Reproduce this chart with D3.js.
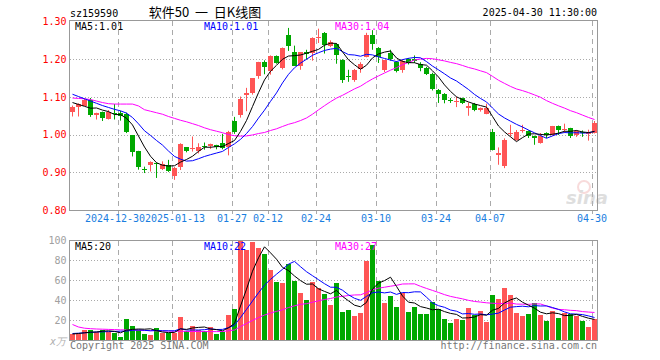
<!DOCTYPE html>
<html>
<head>
<meta charset="utf-8">
<script src="https://cdn.jsdelivr.net/npm/d3@7"></script>
<style>
  body { margin: 0; background: #fff; }
  svg text { font-family: "DejaVu Sans Mono", monospace; font-size: 10px; }
</style>
</head>
<body>
<div class="chart"></div>
<script>
// trading days shown on the chart
var dates = [
  "2024-12-18","2024-12-19","2024-12-20","2024-12-23","2024-12-24","2024-12-25","2024-12-26","2024-12-27","2024-12-30","2024-12-31",
  "2025-01-02","2025-01-03","2025-01-06","2025-01-07","2025-01-08","2025-01-09","2025-01-10","2025-01-13","2025-01-14","2025-01-15",
  "2025-01-16","2025-01-17","2025-01-20","2025-01-21","2025-01-22","2025-01-23","2025-01-24","2025-01-27","2025-02-05","2025-02-06",
  "2025-02-07","2025-02-10","2025-02-11","2025-02-12","2025-02-13","2025-02-14","2025-02-17","2025-02-18","2025-02-19","2025-02-20",
  "2025-02-21","2025-02-24","2025-02-25","2025-02-26","2025-02-27","2025-02-28","2025-03-03","2025-03-04","2025-03-05","2025-03-06",
  "2025-03-07","2025-03-10","2025-03-11","2025-03-12","2025-03-13","2025-03-14","2025-03-17","2025-03-18","2025-03-19","2025-03-20",
  "2025-03-21","2025-03-24","2025-03-25","2025-03-26","2025-03-27","2025-03-28","2025-03-31","2025-04-01","2025-04-02","2025-04-03",
  "2025-04-07","2025-04-08","2025-04-09","2025-04-10","2025-04-11","2025-04-14","2025-04-15","2025-04-16","2025-04-17","2025-04-18",
  "2025-04-21","2025-04-22","2025-04-23","2025-04-24","2025-04-25","2025-04-28","2025-04-29","2025-04-30"
];

var opens = [
  1.060,1.074,1.077,1.092,1.053,1.059,1.042,1.056,1.056,1.055,
  0.999,0.957,0.909,0.920,0.925,0.909,0.920,0.890,0.915,0.966,
  0.963,0.957,0.969,0.969,0.972,0.977,0.968,1.037,1.052,1.104,
  1.110,1.156,1.192,1.168,1.209,1.177,1.263,1.218,1.181,1.218,
  1.217,1.258,1.270,1.236,1.240,1.197,1.156,1.145,1.175,1.206,
  1.263,1.230,1.171,1.217,1.192,1.172,1.200,1.200,1.188,1.177,
  1.162,1.119,1.108,1.092,1.087,1.097,1.070,1.082,1.064,1.055,
  1.008,0.947,0.918,1.003,0.986,1.011,1.010,0.995,0.977,1.003,
  0.999,1.023,1.013,1.017,0.999,1.007,1.001,1.005
];
var highs = [
  1.077,1.083,1.096,1.097,1.058,1.061,1.065,1.081,1.063,1.058,
  0.999,0.957,0.915,0.929,0.926,0.929,0.933,0.914,0.977,0.967,
  0.995,0.977,0.979,0.976,0.973,1.002,1.010,1.047,1.101,1.124,
  1.150,1.193,1.197,1.210,1.210,1.231,1.283,1.236,1.219,1.225,
  1.258,1.281,1.272,1.250,1.242,1.200,1.172,1.174,1.192,1.270,
  1.277,1.232,1.198,1.225,1.195,1.200,1.203,1.210,1.192,1.180,
  1.164,1.121,1.110,1.097,1.101,1.098,1.085,1.084,1.072,1.082,
  1.015,0.966,0.990,1.026,1.012,1.026,1.011,0.997,1.004,1.006,
  1.023,1.024,1.029,1.018,1.012,1.011,1.013,1.036
];
var lows = [
  1.048,1.048,1.076,1.047,1.040,1.036,1.040,1.040,1.037,1.004,
  0.942,0.907,0.898,0.902,0.885,0.906,0.901,0.880,0.906,0.953,
  0.955,0.950,0.960,0.962,0.961,0.961,0.945,1.002,1.045,1.062,
  1.106,1.148,1.160,1.159,1.188,1.173,1.222,1.183,1.172,1.199,
  1.196,1.243,1.215,1.232,1.188,1.137,1.140,1.140,1.164,1.205,
  1.225,1.190,1.166,1.196,1.165,1.164,1.186,1.190,1.168,1.158,
  1.117,1.084,1.083,1.084,1.073,1.081,1.050,1.062,1.061,1.054,
  0.958,0.920,0.911,0.995,0.984,1.005,0.991,0.973,0.976,0.991,
  0.997,0.999,1.004,0.991,0.994,0.994,0.984,1.003
];
var closes = [
  1.072,1.081,1.093,1.051,1.056,1.044,1.061,1.054,1.050,1.008,
  0.955,0.914,0.908,0.928,0.922,0.922,0.903,0.912,0.976,0.957,
  0.965,0.967,0.968,0.975,0.966,0.965,1.008,1.008,1.095,1.111,
  1.150,1.192,1.178,1.209,1.190,1.230,1.235,1.183,1.218,1.213,
  1.256,1.260,1.238,1.245,1.210,1.144,1.155,1.172,1.186,1.263,
  1.241,1.207,1.197,1.201,1.170,1.196,1.190,1.196,1.177,1.162,
  1.121,1.108,1.091,1.091,1.090,1.084,1.077,1.064,1.070,1.070,
  0.960,0.950,0.986,1.005,1.006,1.013,0.997,0.990,0.997,0.998,
  1.023,1.011,1.015,0.996,1.010,1.003,1.003,1.030
];
// volume, unit 10k
var volumes = [
  6,6,10,10,8,10,8,7,3,21,
  14,10,6,5,12,7,7,7,23,9,
  14,10,9,13,6,8,25,31,100,90,
  98,92,86,70,58,57,76,59,47,40,
  58,52,46,35,57,28,30,24,27,79,
  95,59,37,44,33,47,28,33,26,26,
  38,31,21,17,21,20,32,25,29,18,
  45,41,52,45,27,24,26,37,25,19,
  29,22,27,26,24,19,13,21
];

// averages before a full window is on screen
var ma5Head = [1.085, 1.080, 1.075, 1.070];
var ma10Head = [1.107, 1.101, 1.095, 1.089, 1.083, 1.077, 1.072, 1.067, 1.063];
var ma30Head = [1.097,1.096,1.095,1.093,1.089,1.085,1.082,1.081,1.081,1.081,1.081,1.076,1.066,1.062,1.058,
  1.054,1.048,1.043,1.038,1.034,1.029,1.024,1.018,1.013,1.009,1.005,1.000,0.997,0.996];
var volMa5Head = [6, 6.5, 7.2, 7.8];
var volMa10Head = [6.5, 6.8, 7.2, 7.6, 8, 8.2, 8.4, 8.6, 8.8];
var volMa30Head = [15.5,13,11.8,11.3,11,10.8,10.6,10.4,10.2,10,9.9,9.8,9.6,9.4,9.2,
  9,9,8.8,8.8,8.6,8.5,8.5,8.4,8.4,8.4,8.5,9.2,10,13.5];

var priceTicks = [0.80, 0.90, 1.00, 1.10, 1.20, 1.30];
var volTicks = [20, 40, 60, 80, 100];
var tickDates = ["2024-12-30","2025-01-13","2025-01-27","2025-02-12","2025-02-24","2025-03-10","2025-03-24","2025-04-07","2025-04-30"];
var tickLabels = ["2024-12-30","2025-01-13","01-27","02-12","02-24","03-10","03-24","04-07","04-30"];

var svgWidth = 660;
var svgHeight = 360;
var red = "#ff5555", green = "#00a800";

var svg = d3.select(".chart")
  .append("svg")
  .attr("width", svgWidth)
  .attr("height", svgHeight);

// Scales
var x = d3.scaleBand().domain(dates).range([69.5, 597.5]).paddingInner(1 / 6).paddingOuter(1 / 12);
var yPrice = d3.scaleLinear().domain([0.8, 1.3]).range([210, 21.5]);
var yVol = d3.scaleLinear().domain([0, 100]).range([340, 240]);
var bw = x.bandwidth();
var cx = function(d) { return x(d) + bw / 2; };

function movingAvg(values, n, head) {
  return values.map(function(v, i) {
    if (i < n - 1) return head[i];
    return d3.mean(values.slice(i - n + 1, i + 1));
  });
}
var ma5 = movingAvg(closes, 5, ma5Head);
var ma10 = movingAvg(closes, 10, ma10Head);
var ma30 = movingAvg(closes, 30, ma30Head);
var vma5 = movingAvg(volumes, 5, volMa5Head);
var vma10 = movingAvg(volumes, 10, volMa10Head);
var vma30 = movingAvg(volumes, 30, volMa30Head);

// Grid: dotted horizontals, dashed verticals
var grid = svg.append("g").attr("stroke", "#aaa").attr("stroke-width", 1);
grid.selectAll("line.hp").data(priceTicks.slice(1, -1)).enter().append("line")
  .attr("x1", 70).attr("x2", 597)
  .attr("y1", d => Math.round(yPrice(d)) + 0.5).attr("y2", d => Math.round(yPrice(d)) + 0.5)
  .attr("stroke-dasharray", "1,2");
grid.selectAll("line.hv").data(volTicks.slice(0, -1)).enter().append("line")
  .attr("x1", 70).attr("x2", 597)
  .attr("y1", d => Math.round(yVol(d)) + 0.5).attr("y2", d => Math.round(yVol(d)) + 0.5)
  .attr("stroke-dasharray", "1,2");
grid.selectAll("line.vp").data(tickDates).enter().append("line")
  .attr("x1", d => x(d) + 0.5).attr("x2", d => x(d) + 0.5)
  .attr("y1", 21).attr("y2", 214)
  .attr("stroke-dasharray", "5,4");
grid.selectAll("line.vv").data(tickDates).enter().append("line")
  .attr("x1", d => x(d) + 0.5).attr("x2", d => x(d) + 0.5)
  .attr("y1", 241).attr("y2", 340)
  .attr("stroke-dasharray", "5,4");

// sina watermark
var wm = svg.append("g").attr("opacity", 0.45);
wm.append("circle").attr("cx", 584).attr("cy", 187).attr("r", 6)
  .attr("fill", "none").attr("stroke", "#f0b0b0").attr("stroke-width", 2);
wm.append("text").attr("x", 566).attr("y", 204)
  .style("font-family", "DejaVu Sans").style("font-size", "18px")
  .style("font-style", "italic").style("font-weight", "bold")
  .attr("fill", "#b8b8b8").text("sina");

// Candles
var candles = svg.append("g").selectAll("g").data(dates).enter().append("g")
  .attr("fill", (d, i) => closes[i] >= opens[i] ? red : green)
  .attr("stroke", (d, i) => closes[i] >= opens[i] ? red : green);
candles.append("line")
  .attr("x1", cx).attr("x2", cx)
  .attr("y1", (d, i) => yPrice(highs[i])).attr("y2", (d, i) => yPrice(lows[i]));
candles.append("rect")
  .attr("stroke", "none")
  .attr("shape-rendering", "crispEdges")
  .attr("x", d => x(d))
  .attr("width", bw)
  .attr("y", (d, i) => yPrice(Math.max(opens[i], closes[i])))
  .attr("height", (d, i) => Math.max(1, Math.abs(yPrice(opens[i]) - yPrice(closes[i]))));

// Volume bars
svg.append("g").selectAll("rect").data(dates).enter().append("rect")
  .attr("shape-rendering", "crispEdges")
  .attr("x", d => x(d))
  .attr("width", bw)
  .attr("y", (d, i) => yVol(volumes[i]))
  .attr("height", (d, i) => yVol(0) - yVol(volumes[i]))
  .attr("fill", (d, i) => closes[i] >= opens[i] ? red : green);

// Moving average lines
function drawLine(values, scale, color) {
  var line = d3.line().x((d, i) => cx(dates[i])).y(d => scale(d));
  svg.append("path").datum(values)
    .attr("d", line).attr("fill", "none")
    .attr("stroke", color).attr("stroke-width", 1);
}
drawLine(ma30, yPrice, "#ff00ff");
drawLine(ma10, yPrice, "#0000ff");
drawLine(ma5, yPrice, "#000000");
drawLine(vma30, yVol, "#ff00ff");
drawLine(vma10, yVol, "#0000ff");
drawLine(vma5, yVol, "#000000");

// Frames
svg.append("rect").attr("x", 69.5).attr("y", 20.5).attr("width", 528).attr("height", 190)
  .attr("fill", "none").attr("stroke", "#999");
svg.append("rect").attr("x", 69.5).attr("y", 240.5).attr("width", 528).attr("height", 100)
  .attr("fill", "none").attr("stroke", "#999");

// Axes
var leftAxis = d3.axisLeft(yPrice).tickValues(priceTicks).tickFormat(d3.format(".2f")).tickSize(0).tickPadding(3);
svg.append("g").attr("transform", "translate(69.5,0)").call(leftAxis)
  .call(g => g.select(".domain").remove())
  .selectAll("text").attr("fill", "#ff0000").style("font-family", "DejaVu Sans Mono").style("font-size", "10px");

var volAxis = d3.axisLeft(yVol).tickValues(volTicks).tickFormat(d3.format("d")).tickSize(0).tickPadding(3);
svg.append("g").attr("transform", "translate(69.5,0)").call(volAxis)
  .call(g => g.select(".domain").remove())
  .selectAll("text").attr("fill", "#a0a0a0").style("font-family", "DejaVu Sans Mono").style("font-size", "10px");

var bottomAxis = d3.axisBottom(x).tickValues(tickDates)
  .tickFormat((d, i) => tickLabels[i]).tickSize(0).tickPadding(4);
svg.append("g").attr("transform", "translate(" + (-bw / 2) + ",211)").call(bottomAxis)
  .call(g => g.select(".domain").remove())
  .selectAll("text").attr("fill", "#1a7ee0").style("font-family", "DejaVu Sans Mono").style("font-size", "10px")
  // the two long labels sit close together; nudge them apart a little
  .attr("dx", (d, i) => i === 0 ? -3 : (i === 1 ? 3 : 0));

// Header texts
svg.append("text").attr("x", 70).attr("y", 17).attr("fill", "#000").text("sz159590");
svg.append("text").attr("x", 205).attr("y", 17).attr("text-anchor", "middle")
  .style("font-family", "Noto Sans CJK SC").style("font-size", "13px").style("white-space", "pre")
  .attr("fill", "#000").text("软件50  一  日K线图");
svg.append("text").attr("x", 597).attr("y", 16).attr("text-anchor", "end")
  .attr("fill", "#000").text("2025-04-30 11:30:00");

// MA legends
var last = dates.length - 1;
var f2 = d3.format(".2f");
svg.append("text").attr("x", 75).attr("y", 30).attr("fill", "#000").text("MA5:" + f2(ma5[last]));
svg.append("text").attr("x", 204).attr("y", 30).attr("fill", "#0000ff").text("MA10:" + f2(ma10[last]));
svg.append("text").attr("x", 335).attr("y", 30).attr("fill", "#ff00ff").text("MA30:" + f2(ma30[last]));
svg.append("text").attr("x", 75).attr("y", 250).attr("fill", "#000").text("MA5:" + Math.floor(vma5[last]));
svg.append("text").attr("x", 204).attr("y", 250).attr("fill", "#0000ff").text("MA10:" + Math.floor(vma10[last]));
svg.append("text").attr("x", 335).attr("y", 250).attr("fill", "#ff00ff").text("MA30:" + Math.floor(vma30[last]));

// Footer texts
svg.append("text").attr("x", 66).attr("y", 345).attr("text-anchor", "end")
  .style("font-style", "italic").attr("fill", "#b0b0b0").text("x万");
svg.append("text").attr("x", 70).attr("y", 349).attr("fill", "#777").text("Copyright 2025 SINA.COM");
svg.append("text").attr("x", 597).attr("y", 349).attr("text-anchor", "end")
  .attr("fill", "#777").text("http://finance.sina.com.cn");
</script>
</body>
</html>
